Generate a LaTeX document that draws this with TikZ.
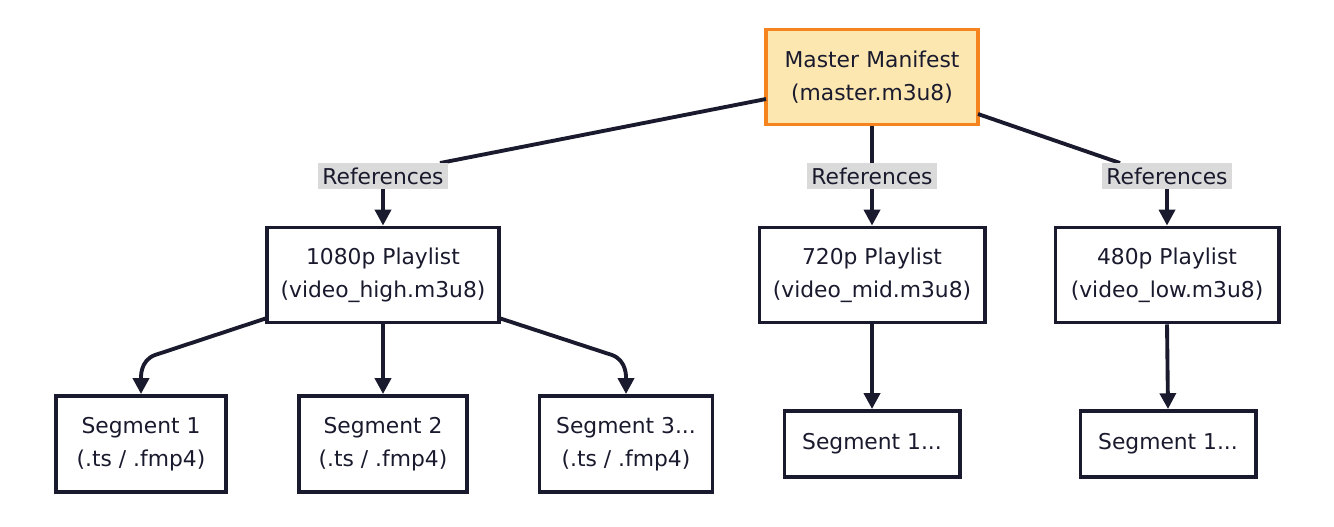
\documentclass[tikz,border=0pt]{standalone}
\usepackage{fontspec}
\setmainfont{DejaVu Sans}
\usetikzlibrary{arrows.meta,positioning}
\definecolor{masterfill}{HTML}{FCE7B0}
\definecolor{masterdraw}{HTML}{F5841F}
\definecolor{labelgrey}{HTML}{DADADA}
\definecolor{ink}{HTML}{1A1A2E}
\tikzset{
	stream box/.style={draw=ink,line width=1.1pt,fill=white,align=center,inner sep=0pt,
		font=\fontsize{6.2}{9.5}\selectfont,text=ink},
	master box/.style={stream box,fill=masterfill,draw=masterdraw},
	ref label/.style={fill=labelgrey,inner sep=1.2pt,font=\fontsize{6.2}{8}\selectfont,text=ink},
	link/.style={draw=ink,line width=1.1pt},
	arr/.style={link,-{Triangle[length=4.5pt,width=4.5pt]}}
}
\begin{document}
\begin{tikzpicture}[x=0.01cm,y=-0.01cm]
  \useasboundingbox (0,0) rectangle (1334,526);
  % manifests
  \node[master box,minimum width=212\pgflinewidth,text width=1.9cm,minimum width=2.12cm,minimum height=0.95cm] (master) at (872,77) {Master Manifest\\(master.m3u8)};
  \node[stream box,minimum width=2.32cm,minimum height=0.95cm] (hi) at (383,275) {1080p Playlist\\(video\_high.m3u8)};
  \node[stream box,minimum width=2.25cm,minimum height=0.95cm] (mid) at (872,275) {720p Playlist\\(video\_mid.m3u8)};
  \node[stream box,minimum width=2.23cm,minimum height=0.95cm] (low) at (1167,275) {480p Playlist\\(video\_low.m3u8)};
  % segments
  \node[stream box,minimum width=1.70cm,minimum height=0.96cm] (seg1) at (141,444) {Segment 1\\(.ts / .fmp4)};
  \node[stream box,minimum width=1.68cm,minimum height=0.96cm] (seg2) at (383,444) {Segment 2\\(.ts / .fmp4)};
  \node[stream box,minimum width=1.73cm,minimum height=0.96cm] (seg3) at (626,444) {Segment 3...\\(.ts / .fmp4)};
  \node[stream box,minimum width=1.75cm,minimum height=0.66cm] (segmid) at (872,444) {Segment 1...};
  \node[stream box,minimum width=1.75cm,minimum height=0.66cm] (seglow) at (1168,444) {Segment 1...};
  % references
  \coordinate (mL) at (766,99);
  \coordinate (mR) at (978,114);
  \draw[link] (mL) -- (440,163);
  \draw[link] (mR) -- (1120,163);
  \draw[link] (master.south) -- (872,163);
  \node[ref label] (rhi) at (383,176) {References};
  \node[ref label] (rmid) at (872,176) {References};
  \node[ref label] (rlow) at (1167,176) {References};
  \draw[arr] (rhi.south) -- (hi.north);
  \draw[arr] (rmid.south) -- (mid.north);
  \draw[arr] (rlow.south) -- (low.north);
  % segments
  \coordinate (hL) at (267,318);
  \coordinate (hR) at (499,318);
  \draw[arr] (hL) -- (155,355) to[out=-160,in=90] (seg1.north);
  \draw[arr] (hR) -- (612,355) to[out=-20,in=90] (seg3.north);
  \draw[arr] (hi.south) -- (seg2.north);
  \draw[arr] (mid.south) -- (segmid.north);
  \draw[arr] (low.south) -- (seglow.north);
\end{tikzpicture}
\end{document}
